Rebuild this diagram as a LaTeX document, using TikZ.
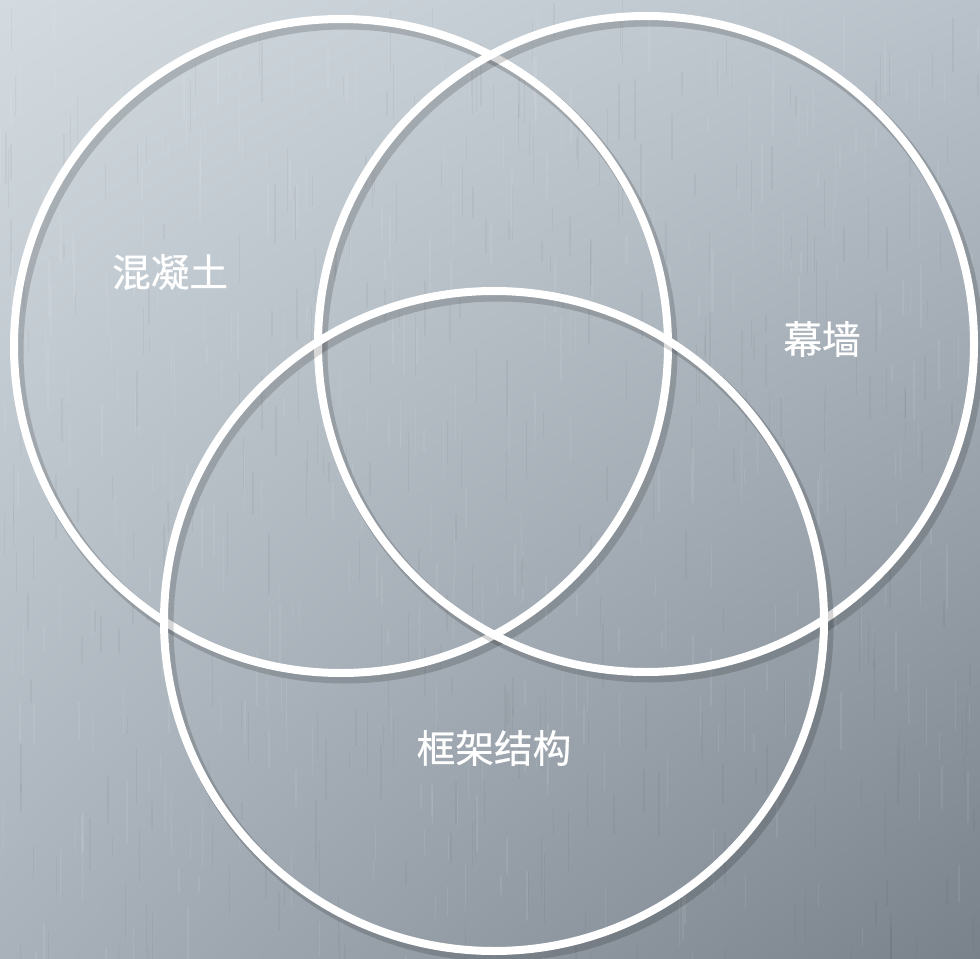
\documentclass[tikz,border=0pt]{standalone}
\usepackage{fontspec}
\newfontfamily\cjk[UprightFeatures={FakeBold=0.6}]{Noto Sans CJK SC}
\usetikzlibrary{shadings}
\definecolor{bgUL}{HTML}{D3DBE0}
\definecolor{bgUR}{HTML}{B9C2CA}
\definecolor{bgLL}{HTML}{A9B2BB}
\definecolor{bgLR}{HTML}{79828B}
\tikzset{
  ring/.style={draw=white, line width=0.16cm},
  ringshadow/.style={draw=black, line width=0.22cm, opacity=0.16},
  lbl/.style={text=white, font=\cjk\fontsize{22}{26}\selectfont, inner sep=0pt},
}
\begin{document}
\begin{tikzpicture}[x=0.02cm, y=-0.02cm]
\useasboundingbox (0,0) rectangle (980,959);
\shade[upper left=bgUL, upper right=bgUR, lower left=bgLL, lower right=bgLR] (0,0) rectangle (980,959);
% brushed texture
\pgfmathsetseed{7}
\foreach \i in {1,...,700}{
  \pgfmathsetmacro{\xx}{rnd*980}
  \pgfmathsetmacro{\yy}{rnd*959}
  \pgfmathsetmacro{\ll}{15+rnd*50}
  \pgfmathsetmacro{\ww}{0.3+rnd*0.9}
  \pgfmathtruncatemacro{\cc}{rnd*2}
  \ifnum\cc=0
    \draw[white, opacity=0.07, line width=\ww pt] (\xx,\yy) -- (\xx,\yy+\ll);
  \else
    \draw[black, opacity=0.035, line width=\ww pt] (\xx,\yy) -- (\xx,\yy+\ll);
  \fi
}
% circles
\coordinate (c1) at (341,346);
\coordinate (c2) at (646,344);
\coordinate (c3) at (494,621);
\draw[ringshadow] ([shift={(4,5)}]c1) circle[radius=327];
\draw[ring] (c1) circle[radius=327];
\draw[ringshadow] ([shift={(4,5)}]c2) circle[radius=328];
\draw[ring] (c2) circle[radius=328];
\draw[ringshadow] ([shift={(4,5)}]c3) circle[radius=330];
\draw[ring] (c3) circle[radius=330];
% labels
\node[lbl] (t1) at (170,272) {混凝土};
\node[lbl] (t2) at (822,339) {幕墙};
\node[lbl] (t3) at (494,748) {框架结构};
\end{tikzpicture}
\end{document}
